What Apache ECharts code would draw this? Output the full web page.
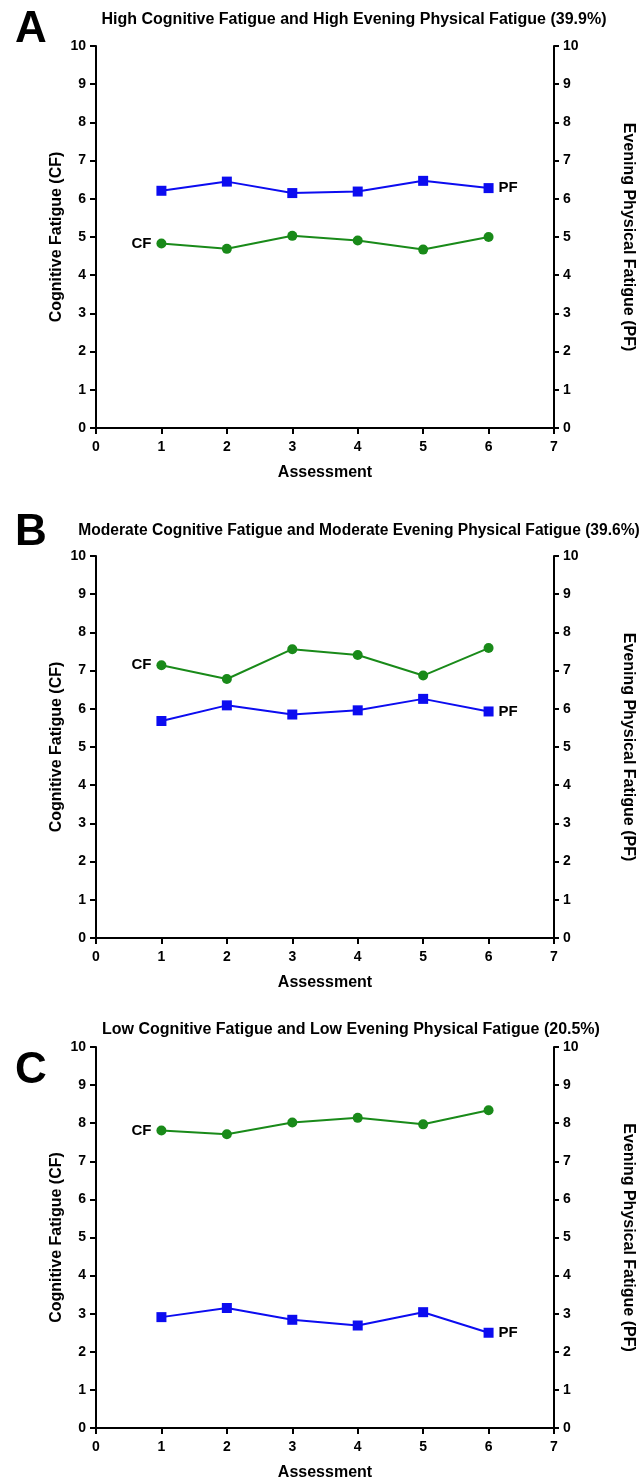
<!DOCTYPE html>
<html><head><meta charset="utf-8">
<script src="https://cdn.jsdelivr.net/npm/echarts@6/dist/echarts.min.js"></script>
<style>html,body{margin:0;padding:0;background:#fff}#c{width:644px;height:1482px}</style>
</head><body><div id="c"></div>
<script>
const assessments = [1, 2, 3, 4, 5, 6];
const xTicks = [0, 1, 2, 3, 4, 5, 6, 7];
const yTicks = [0, 1, 2, 3, 4, 5, 6, 7, 8, 9, 10];
const panelLetters = ['A', 'B', 'C'];
const panelTitles = [
  'High Cognitive Fatigue and High Evening Physical Fatigue (39.9%)',
  'Moderate Cognitive Fatigue and Moderate Evening Physical Fatigue (39.6%)',
  'Low Cognitive Fatigue and Low Evening Physical Fatigue (20.5%)'
];
const cfA = [4.83, 4.69, 5.03, 4.91, 4.67, 5.00];
const pfA = [6.21, 6.45, 6.15, 6.19, 6.47, 6.28];
const cfB = [7.14, 6.78, 7.56, 7.41, 6.87, 7.59];
const pfB = [5.68, 6.09, 5.85, 5.96, 6.26, 5.93];
const cfC = [7.81, 7.71, 8.02, 8.14, 7.97, 8.34];
const pfC = [2.91, 3.15, 2.84, 2.69, 3.04, 2.50];
const cfSeries = [cfA, cfB, cfC];
const pfSeries = [pfA, pfB, pfC];
const xName = 'Assessment';
const leftName = 'Cognitive Fatigue (CF)';
const rightName = 'Evening Physical Fatigue (PF)';

const FONT = '"Liberation Sans", Arial, sans-serif';
const GREEN = '#198a19';
const BLUE = '#0c0cf0';
const gridTops = [46, 556, 1047];
const gridH = 382;
const titleY = [7, 518, 1017];
const titleX = [349, 354, 346];
const titleSize = [16, 15.6, 16];
const letterY = [3, 506, 1044];

const chart = echarts.init(document.getElementById('c'), null, {renderer: 'canvas'});
const grids = [], xAxes = [], yAxes = [], series = [], titles = [];
const axisLine = {show: true, lineStyle: {color: '#000', width: 2}};
const tickLbl = {color: '#000', fontWeight: 'bold', fontSize: 14, fontFamily: FONT};
const nameStyle = {color: '#000', fontWeight: 'bold', fontSize: 16, fontFamily: FONT};

for (let i = 0; i < 3; i++) {
  grids.push({left: 96, right: 90, top: gridTops[i], height: gridH, containLabel: false});
  titles.push({text: panelLetters[i], left: 10, top: letterY[i],
    textStyle: {fontSize: 44, fontWeight: 'bold', fontFamily: FONT, color: '#000'}});
  titles.push({text: panelTitles[i], left: titleX[i], top: titleY[i], textAlign: 'center',
    textStyle: {fontSize: titleSize[i], fontWeight: 'bold', fontFamily: FONT, color: '#000'}});
  xAxes.push({type: 'value', gridIndex: i, min: xTicks[0], max: xTicks[xTicks.length - 1], interval: 1,
    axisLine: axisLine, axisTick: {show: true, length: 6, lineStyle: {color: '#000', width: 2}},
    axisLabel: Object.assign({margin: 12}, tickLbl), splitLine: {show: false},
    name: xName, nameLocation: 'middle', nameGap: 37, nameMoveOverlap: false, nameTextStyle: nameStyle});
  yAxes.push({type: 'value', gridIndex: i, position: 'left', min: yTicks[0], max: yTicks[yTicks.length - 1], interval: 1,
    axisLine: axisLine, axisTick: {show: true, length: 6, lineStyle: {color: '#000', width: 2}},
    axisLabel: Object.assign({margin: 10}, tickLbl), splitLine: {show: false},
    name: leftName, nameLocation: 'middle', nameGap: 31, nameRotate: 90, nameMoveOverlap: false, nameTextStyle: nameStyle});
  yAxes.push({type: 'value', gridIndex: i, position: 'right', min: yTicks[0], max: yTicks[yTicks.length - 1], interval: 1,
    axisLine: axisLine, axisTick: {show: true, length: 5, lineStyle: {color: '#000', width: 2}},
    axisLabel: Object.assign({margin: 9}, tickLbl), splitLine: {show: false},
    name: rightName, nameLocation: 'middle', nameGap: 66, nameRotate: -90, nameMoveOverlap: false, nameTextStyle: nameStyle});

  const lblStyle = {show: true, fontWeight: 'bold', fontSize: 15, fontFamily: FONT, color: '#000', distance: 5};
  const cfData = assessments.map((a, k) => {
    const d = {value: [a, cfSeries[i][k]]};
    if (k === 0) d.label = Object.assign({position: 'left', formatter: 'CF'}, lblStyle);
    return d;
  });
  const pfData = assessments.map((a, k) => {
    const d = {value: [a, pfSeries[i][k]]};
    if (k === assessments.length - 1) d.label = Object.assign({position: 'right', formatter: 'PF'}, lblStyle);
    return d;
  });
  series.push({type: 'line', name: 'CF', xAxisIndex: i, yAxisIndex: 2 * i, data: cfData,
    symbol: 'circle', symbolSize: 10, lineStyle: {color: GREEN, width: 2}, itemStyle: {color: GREEN},
    label: {show: false}, animation: false, z: 3});
  series.push({type: 'line', name: 'PF', xAxisIndex: i, yAxisIndex: 2 * i + 1, data: pfData,
    symbol: 'rect', symbolSize: 10, lineStyle: {color: BLUE, width: 2}, itemStyle: {color: BLUE},
    label: {show: false}, animation: false, z: 3});
}

chart.setOption({backgroundColor: '#fff', animation: false, title: titles, grid: grids,
  xAxis: xAxes, yAxis: yAxes, series: series});
</script></body></html>
